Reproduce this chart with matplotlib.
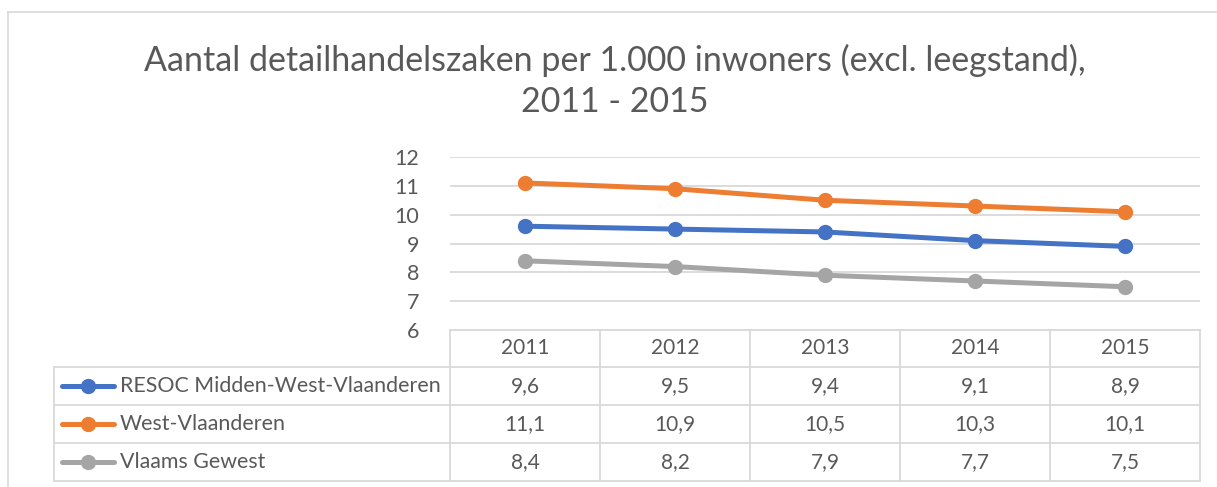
import matplotlib
matplotlib.use("Agg")
import matplotlib.pyplot as plt
from matplotlib.lines import Line2D

# Data
years = ["2011", "2012", "2013", "2014", "2015"]
series_names = ["RESOC Midden-West-Vlaanderen", "West-Vlaanderen", "Vlaams Gewest"]
resoc = [9.6, 9.5, 9.4, 9.1, 8.9]
west_vl = [11.1, 10.9, 10.5, 10.3, 10.1]
vlaams = [8.4, 8.2, 7.9, 7.7, 7.5]
colors = ["#4472C4", "#ED7D31", "#A5A5A5"]
yticks = [6, 7, 8, 9, 10, 11, 12]

W, H = 1217, 487
plt.rcParams['font.family'] = ['Lato', 'DejaVu Sans']
txt_color = "#595959"
grid_color = "#D9D9D9"

fig = plt.figure(figsize=(W / 100, H / 100), dpi=100)


def fx(px):
    return px / W


def fy(py):
    return 1 - py / H


# outer chart border
fig.add_artist(Line2D([fx(8), fx(1217)], [fy(12), fy(12)], color=grid_color, lw=1.2))
fig.add_artist(Line2D([fx(8), fx(8)], [fy(12), fy(487)], color=grid_color, lw=1.2))

# title
fig.text(fx(615), fy(60), "Aantal detailhandelszaken per 1.000 inwoners (excl. leegstand),",
         ha="center", va="center", fontsize=24.5, color=txt_color)
fig.text(fx(615), fy(102), "2011 - 2015", ha="center", va="center", fontsize=24.5, color=txt_color)

# plot area
left, right, top, bottom = 450, 1200, 157, 330
ax = fig.add_axes([fx(left), fy(bottom), fx(right - left), (bottom - top) / H])
xs = list(range(len(years)))
for vals, c in zip([resoc, west_vl, vlaams], colors):
    ax.plot(xs, vals, color=c, lw=3.6, marker="o", markersize=10, solid_capstyle="round")
ax.set_xlim(-0.5, len(years) - 0.5)
ax.set_ylim(6, 12)
ax.set_yticks(yticks)
ax.set_xticks([])
ax.yaxis.grid(True, color=grid_color, lw=1.3)
ax.set_axisbelow(True)
for s in ax.spines.values():
    s.set_visible(False)
ax.tick_params(axis="y", length=0, pad=22, labelsize=15.5, labelcolor=txt_color)

# data table
col_w = (right - left) / len(years)
row_y = [330, 367, 405, 443, 481]
tl = 54
lc = "#D9D9D9"
fig.add_artist(Line2D([fx(left), fx(right)], [fy(row_y[0]), fy(row_y[0])], color=lc, lw=1.3))
for yy in row_y[1:]:
    fig.add_artist(Line2D([fx(tl), fx(right)], [fy(yy), fy(yy)], color=lc, lw=1.3))
for i in range(len(years) + 1):
    xx = left + i * col_w
    fig.add_artist(Line2D([fx(xx), fx(xx)], [fy(row_y[0]), fy(row_y[-1])], color=lc, lw=1.3))
fig.add_artist(Line2D([fx(tl), fx(tl)], [fy(row_y[1]), fy(row_y[-1])], color=lc, lw=1.3))

for i, y in enumerate(years):
    fig.text(fx(left + (i + 0.5) * col_w), fy((row_y[0] + row_y[1]) / 2), y,
             ha="center", va="center", fontsize=15, color=txt_color)

for r, (name, vals, c) in enumerate(zip(series_names, [resoc, west_vl, vlaams], colors)):
    yc = fy((row_y[r + 1] + row_y[r + 2]) / 2)
    fig.add_artist(Line2D([fx(62), fx(114)], [yc, yc], color=c, lw=3.6, solid_capstyle="round"))
    fig.add_artist(Line2D([fx(88)], [yc], color=c, marker="o", markersize=10))
    fig.text(fx(120), yc, name, ha="left", va="center", fontsize=15.4, color=txt_color)
    for i, v in enumerate(vals):
        fig.text(fx(left + (i + 0.5) * col_w), yc, f"{v:.1f}".replace(".", ","),
                 ha="center", va="center", fontsize=15, color=txt_color)

fig.savefig("out.png", dpi=100)
